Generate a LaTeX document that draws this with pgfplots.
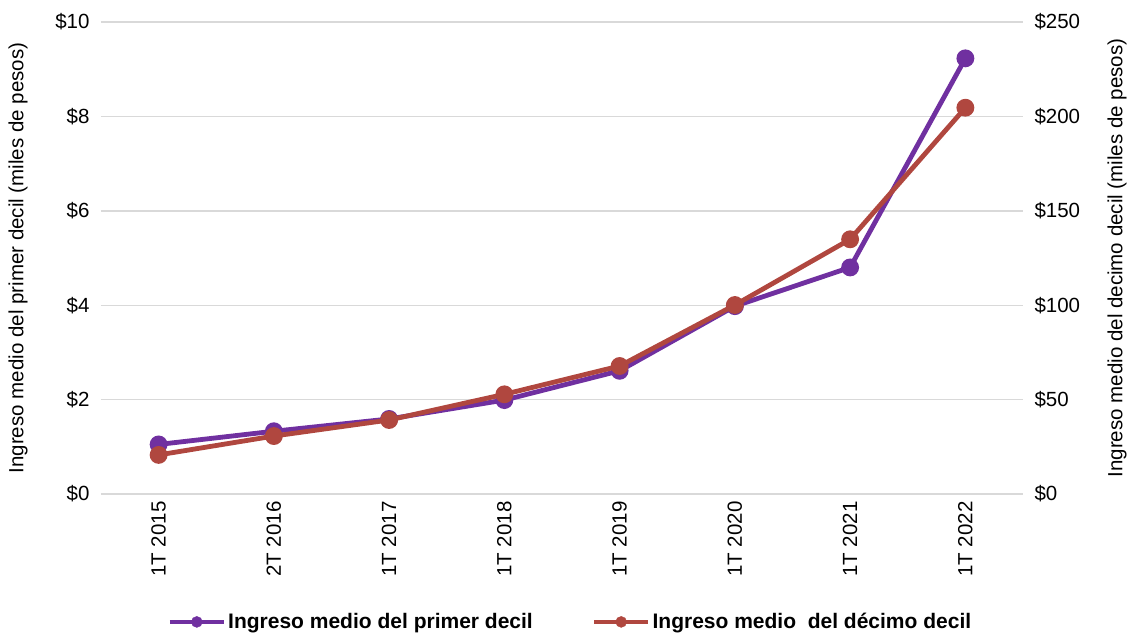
\documentclass[border=0pt]{standalone}
\usepackage{fontspec}
\setmainfont{Liberation Sans}
\usepackage{pgfplots}
\pgfplotsset{compat=1.18}
\definecolor{cprim}{HTML}{7030A0}
\definecolor{cdec}{HTML}{B0473F}
\definecolor{cgrid}{HTML}{D9D9D9}

\pgfplotstableread{
x v
0 1.05
1 1.33
2 1.59
3 1.99
4 2.61
5 3.98
6 4.80
7 9.23
}\primer
\pgfplotstableread{
x v
0 20.7
1 30.7
2 39.2
3 52.8
4 67.8
5 100.1
6 134.9
7 204.6
}\decimo

\begin{document}
\begin{tikzpicture}[font=\fontsize{20.5}{24}\selectfont]
\pgfplotsset{
  every axis/.append style={
    at={(0,0)}, anchor=south west,
    scale only axis, width=922pt, height=472pt,
    xmin=-0.5, xmax=7.5,
    axis line style={draw=none},
    tick style={draw=none},
    /pgf/number format/assume math mode=true,
    tick label style={font=\fontsize{20.5}{24}\selectfont},
    label style={font=\fontsize{20.5}{24}\selectfont},
  },
}
\begin{axis}[
  ymin=0, ymax=10, ytick={0,2,4,6,8,10},
  yticklabel={\$\pgfmathprintnumber{\tick}},
  yticklabel style={xshift=-8pt},
  ymajorgrids, grid style={cgrid, line width=1.4pt},
  xtick={0,...,7},
  xticklabels={1T 2015,2T 2016,1T 2017,1T 2018,1T 2019,1T 2020,1T 2021,1T 2022},
  xticklabel style={rotate=90, anchor=east, xshift=-4pt},
  ylabel={Ingreso medio del primer decil (miles de pesos)},
  ylabel style={at={(axis description cs:-0.09,0.5)}, anchor=center},
]
\addplot[cprim, line width=4.8pt, mark=*, mark size=6.5pt] table[x=x, y=v] {\primer};
\end{axis}
\begin{axis}[
  axis y line*=right,
  ymin=0, ymax=250, ytick={0,50,100,150,200,250},
  yticklabel={\$\pgfmathprintnumber{\tick}},
  yticklabel style={xshift=8pt},
  xtick=\empty,
  ylabel={Ingreso medio del decimo decil (miles de pesos)},
  ylabel style={at={(axis description cs:1.102,0.5)}, anchor=center},
  legend columns=2,
  legend style={at={(0.509,-0.271)}, anchor=center, draw=none,
    font=\fontsize{21}{24}\selectfont\bfseries, inner sep=0pt,
    /tikz/every even column/.append style={column sep=57pt}},
  legend image code/.code={
    \draw[#1, line width=4.8pt] (0,0) -- (54pt,0);
    \fill[#1] (27pt,0) circle (5.5pt);
  },
]
\addplot[cdec, line width=4.8pt, mark=*, mark size=6.5pt, forget plot] table[x=x, y=v] {\decimo};
\addlegendimage{cprim}
\addlegendentry{Ingreso medio del primer decil}
\addlegendimage{cdec}
\addlegendentry{Ingreso medio\ \ del décimo decil}
\end{axis}
\pgfresetboundingbox
\path[use as bounding box] (-101pt,-139pt) rectangle (1028pt,494pt);
\end{tikzpicture}
\end{document}
